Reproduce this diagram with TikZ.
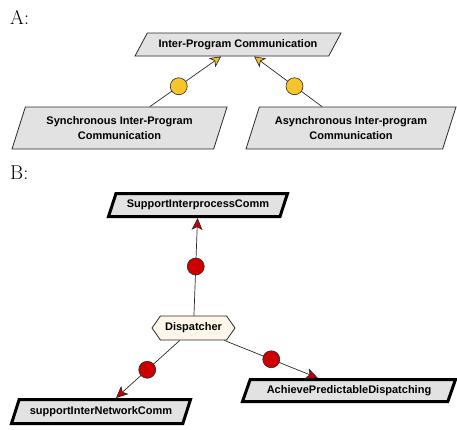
\documentclass[tikz,border=0pt]{standalone}
\usepackage{fontspec}
\setsansfont{Liberation Sans}
\usepackage{tikz}
\usetikzlibrary{positioning, arrows.meta, shapes.geometric, shapes.symbols, calc}

\definecolor{boxgray}{HTML}{E2E2E2}
\definecolor{dotyellow}{HTML}{F7C52B}
\definecolor{dotred}{HTML}{CC0000}
\definecolor{hexcream}{HTML}{FCF7E8}
\definecolor{linegray}{HTML}{2A2A2A}

\begin{document}
\begin{tikzpicture}[x=1pt, y=-1pt,
    goal/.style={draw=linegray, fill=boxgray, trapezium, trapezium stretches body,
                 trapezium left angle=62, trapezium right angle=118, line width=0.8pt,
                 font=\sffamily\bfseries\fontsize{11}{15}\selectfont, align=center, inner sep=1pt},
    softgoal/.style={goal, draw=black, line width=3pt, trapezium left angle=58, trapezium right angle=122},
    agent/.style={draw=linegray, fill=hexcream, signal, signal to=west and east, signal pointer angle=110,
                  minimum width=83pt, minimum height=24pt, inner sep=1pt, line width=0.8pt,
                  font=\sffamily\bfseries\fontsize{11}{15}\selectfont},
    ydot/.style={draw=linegray, fill=dotyellow, circle, minimum size=17pt, inner sep=0pt, line width=0.6pt},
    rdot/.style={ydot, fill=dotred},
    ylink/.style={draw=linegray, line width=0.7pt, -{Stealth[length=11pt, width=11pt, inset=3pt, fill=dotyellow]}},
    rlink/.style={draw=linegray, line width=0.7pt, -{Stealth[length=12pt, width=11pt, inset=3pt, fill=dotred]}},
    panel/.style={font=\fontsize{20}{24}\selectfont, anchor=base west, inner sep=0pt},
]
\useasboundingbox (0,0) rectangle (457,429);

% === A: Inter-Program Communication ===
\node[panel] (la) at (10, 24) {A:};

\node[goal, minimum width=206pt, minimum height=23pt, trapezium left angle=45, trapezium right angle=135]
    (ipc) at (238, 44.5) {Inter-Program Communication};
\node[goal, minimum width=215pt, minimum height=42pt] (sipc) at (119.5, 128)
    {Synchronous Inter-Program\\Communication};
\node[goal, minimum width=210pt, minimum height=42pt] (aipc) at (351, 128)
    {Asynchronous Inter-program\\Communication};

\draw[ylink] (sipc) -- (ipc);
\draw[ylink] (aipc) -- (ipc);
\node[ydot] (ya) at ($(sipc.center)!0.5!(ipc.center)$) {};
\node[ydot] (yb) at ($(aipc.center)!0.5!(ipc.center)$) {};

% === B: Dispatcher ===
\node[panel] (lb) at (10, 179) {B:};

\node[softgoal, minimum width=179pt, minimum height=23pt] (sic) at (198, 205) {SupportInterprocessComm};
\node[agent] (disp) at (193.5, 328) {Dispatcher};
\node[softgoal, minimum width=179pt, minimum height=24pt] (sinc) at (101, 411.5) {supportInterNetworkComm};
\node[softgoal, minimum width=213pt, minimum height=22pt] (apd) at (349, 390.5) {AchievePredictableDispatching};

\draw[rlink] (disp) -- (sic);
\draw[rlink] (disp) -- (sinc);
\draw[rlink] (disp) -- (apd);
\node[rdot] (ra) at ($(disp.center)!0.5!(sic.center)$) {};
\node[rdot] (rb) at ($(disp.center)!0.5!(sinc.center)$) {};
\node[rdot] (rc) at ($(disp.center)!0.5!(apd.center)$) {};

\end{tikzpicture}
\end{document}
